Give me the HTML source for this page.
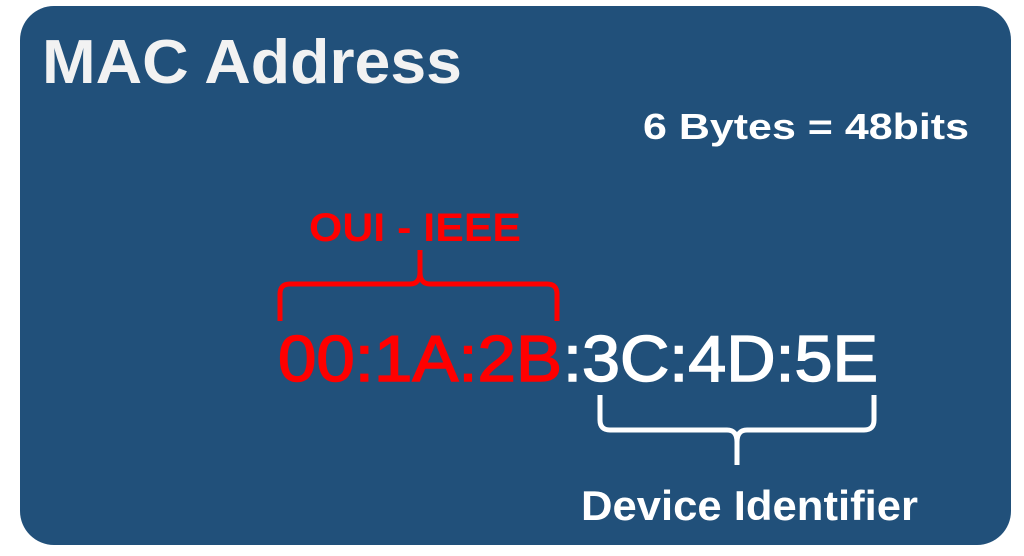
<!DOCTYPE html>
<html><head><meta charset="utf-8"><style>
html,body{margin:0;padding:0;background:#fff;width:1024px;height:556px;overflow:hidden}
svg{display:block}
text{font-family:"Liberation Sans",sans-serif;font-weight:bold}
text.n{font-weight:normal}
</style></head><body>
<svg width="1024" height="556" viewBox="0 0 1024 556" xmlns="http://www.w3.org/2000/svg">
<rect x="20" y="6" width="991" height="539" rx="34" ry="34" fill="#21507a"/>
<text x="42" y="83" font-size="62" fill="#f2f2f2" textLength="420" lengthAdjust="spacingAndGlyphs">MAC Address</text>
<text x="643" y="139" font-size="36" fill="#ffffff" textLength="326" lengthAdjust="spacingAndGlyphs">6 Bytes = 48bits</text>
<text x="309" y="241" font-size="40" fill="#ff0000" textLength="212" lengthAdjust="spacingAndGlyphs">OUI - IEEE</text>
<path d="M280 321 L280 294 Q280 284 290 284 L410 284 Q420 284 420 272 L420 250 M420 272 Q420 284 430 284 L547 284 Q557 284 557 294 L557 321" fill="none" stroke="#ff0000" stroke-width="5"/>
<text class="n" x="278" y="381" font-size="65" fill="#ff0000" stroke="#ff0000" stroke-width="1.5" textLength="284" lengthAdjust="spacingAndGlyphs">00:1A:2B</text>
<text class="n" x="563" y="381" font-size="65" fill="#ffffff" stroke="#ffffff" stroke-width="1.5" textLength="315" lengthAdjust="spacingAndGlyphs">:3C:4D:5E</text>
<path d="M600 395 L600 420 Q600 430 610 430 L727 430 Q737 430 737 442 L737 465 M737 442 Q737 430 747 430 L864 430 Q874 430 874 420 L874 395" fill="none" stroke="#ffffff" stroke-width="5"/>
<text x="581" y="520" font-size="42" fill="#ffffff" textLength="337" lengthAdjust="spacingAndGlyphs">Device Identifier</text>
</svg>
</body></html>
